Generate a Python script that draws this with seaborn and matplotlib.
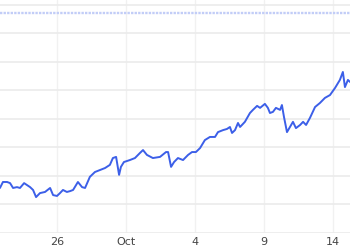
import matplotlib
matplotlib.use("Agg")
import matplotlib.pyplot as plt
import seaborn as sns
import pandas as pd

# trading-day position (0 = Sep 26, weekends removed)
session = [-2.48, -2.35, -2.17, -2.04, -1.91, -1.74, -1.61, -1.43, -1.30, -1.17,
           -1.04, -0.91, -0.74, -0.52, -0.30, -0.17, 0.00, 0.13, 0.26, 0.43,
           0.57, 0.70, 0.91, 1.09, 1.22, 1.43, 1.65, 1.87, 2.09, 2.30,
           2.43, 2.57, 2.70, 2.78, 2.91, 3.17, 3.39, 3.61, 3.74, 3.91,
           4.17, 4.48, 4.74, 4.83, 4.96, 5.09, 5.26, 5.48, 5.70, 5.87,
           6.04, 6.22, 6.43, 6.65, 6.87, 7.00, 7.22, 7.39, 7.52, 7.61,
           7.74, 7.87, 7.96, 8.17, 8.39, 8.52, 8.70, 8.83, 9.04, 9.17,
           9.26, 9.39, 9.52, 9.70, 9.78, 9.87, 10.00, 10.13, 10.26, 10.39,
           10.57, 10.70, 10.83, 11.00, 11.22, 11.43, 11.65, 11.87, 12.09, 12.30,
           12.43, 12.52, 12.65, 12.74]
price = [115.8, 117.9, 117.9, 117.5, 115.8, 116.1, 115.8, 117.5, 116.8, 116.1,
         115.1, 112.6, 114.0, 114.4, 115.8, 113.3, 113.0, 114.0, 115.1, 114.4,
         114.7, 115.1, 117.9, 116.1, 115.8, 119.7, 121.4, 122.1, 122.8, 123.9,
         126.3, 126.7, 120.4, 123.2, 124.9, 125.6, 126.3, 128.1, 129.1, 127.4,
         126.3, 126.7, 128.4, 128.4, 123.2, 124.9, 126.3, 125.6, 127.4, 128.4,
         128.4, 129.8, 132.6, 133.7, 133.7, 135.4, 136.1, 136.5, 137.2, 135.1,
         136.1, 138.6, 137.2, 139.0, 142.1, 143.2, 144.6, 143.9, 145.3, 143.9,
         142.1, 142.5, 143.9, 143.2, 144.9, 140.7, 135.4, 137.2, 139.0, 136.8,
         137.9, 139.0, 137.9, 140.4, 144.2, 145.6, 147.4, 148.4, 150.9, 153.7,
         156.5, 151.2, 153.7, 153.0]

tick_pos = [0, 3, 6, 9, 12]
tick_labels = ["26", "Oct", "4", "9", "14"]
y_grid = [100, 110, 120, 130, 140, 150, 160, 170, 180]
ref_level = 177.2

df = pd.DataFrame({"session": session, "price": price})

sns.set_theme(style="white")
fig = plt.figure(figsize=(3.5, 2.5), dpi=100)
ax = fig.add_axes([0, 0.068, 1, 0.932])

ax.axhline(ref_level, color="#c2cdf7", lw=1.7, ls=(0, (1, 0.5)), zorder=1)
sns.lineplot(data=df, x="session", y="price", ax=ax, color="#3c5fe8",
             lw=1.4, zorder=3)

ax.set_xlim(-2.478, 12.74)
ax.set_ylim(100, 181.75)
ax.set_xticks(tick_pos)
ax.set_xticklabels(tick_labels)
ax.set_yticks(y_grid)
ax.set_yticklabels([])
ax.grid(True, axis="y", color="#ebebeb", lw=1.2)
ax.grid(True, axis="x", color="#f1f1f1", lw=1.0)
ax.tick_params(axis="x", length=0, pad=3, labelsize=8, labelcolor="#444444")
ax.tick_params(axis="y", length=0)
ax.set_xlabel("")
ax.set_ylabel("")
for s in ax.spines.values():
    s.set_visible(False)

fig.savefig("out.png", dpi=100, facecolor="white")
